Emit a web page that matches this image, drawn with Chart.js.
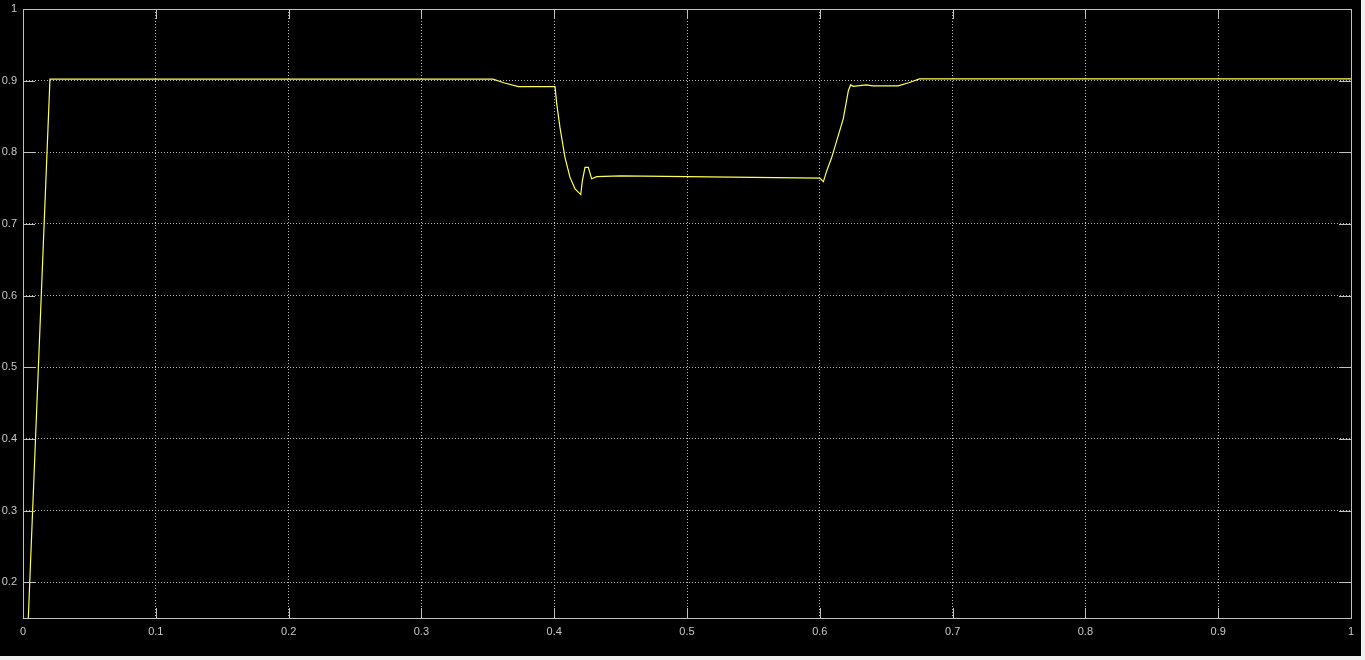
<!DOCTYPE html>
<html>
<head>
<meta charset="utf-8">
<script src="https://cdn.jsdelivr.net/npm/chart.js@4/dist/chart.umd.min.js"></script>
<style>
  html, body { margin: 0; padding: 0; background: #f0f0f0; }
  #wrap { position: absolute; left: 0; top: 0; width: 1361px; height: 656px; background: #000; }
  canvas { display: block; }
</style>
</head>
<body>
<div id="wrap"><canvas id="c" width="1361" height="656"></canvas></div>
<script>
// time (s)
const tVals = [0.004, 0.0203, 0.354, 0.362, 0.373, 0.4006, 0.4019, 0.4044, 0.4081, 0.4119, 0.4157, 0.42, 0.4212, 0.4232, 0.4257, 0.4282, 0.432, 0.45, 0.5, 0.55, 0.6, 0.6027, 0.6052, 0.609, 0.6127, 0.6177, 0.6215, 0.6232, 0.6252, 0.635, 0.64, 0.659, 0.667, 0.675, 1.0];
// signal values
const yVals = [0.15, 0.902, 0.902, 0.897, 0.8916, 0.8916, 0.868, 0.834, 0.793, 0.765, 0.749, 0.741, 0.76, 0.779, 0.779, 0.763, 0.766, 0.767, 0.766, 0.765, 0.764, 0.759, 0.774, 0.793, 0.816, 0.847, 0.886, 0.894, 0.892, 0.894, 0.8926, 0.8926, 0.897, 0.9024, 0.9024];
const xTicks = [0, 0.1, 0.2, 0.3, 0.4, 0.5, 0.6, 0.7, 0.8, 0.9, 1];
const yTicks = [0.2, 0.3, 0.4, 0.5, 0.6, 0.7, 0.8, 0.9, 1];

const points = tVals.map((t, i) => ({ x: t, y: yVals[i] }));

const frame = {
  id: 'frame',
  afterDraw(chart) {
    const { ctx, chartArea: a, scales } = chart;
    ctx.save();
    ctx.strokeStyle = '#c0c0c0';
    ctx.lineWidth = 1;
    ctx.setLineDash([]);
    ctx.strokeRect(Math.round(a.left) + 0.5, Math.round(a.top) + 0.5, Math.round(a.right - a.left), Math.round(a.bottom - a.top));
    ctx.beginPath();
    yTicks.forEach(v => {
      const p = Math.round(scales.y.getPixelForValue(v)) + 0.5;
      ctx.moveTo(a.left, p); ctx.lineTo(a.left + 12, p);
      ctx.moveTo(a.right - 12, p); ctx.lineTo(a.right, p);
    });
    xTicks.forEach(v => {
      const p = Math.round(scales.x.getPixelForValue(v)) + 0.5;
      ctx.moveTo(p, a.bottom); ctx.lineTo(p, a.bottom - 10);
      ctx.moveTo(p, a.top); ctx.lineTo(p, a.top + 10);
    });
    ctx.stroke();
    ctx.restore();
  }
};

new Chart(document.getElementById('c'), {
  type: 'line',
  data: {
    datasets: [{
      data: points,
      borderColor: '#ffff50',
      borderWidth: 1.2,
      pointRadius: 0,
      tension: 0,
      fill: false
    }]
  },
  options: {
    responsive: false,
    animation: false,
    devicePixelRatio: 1,
    layout: { padding: { top: 9, right: 10, left: 0, bottom: 0 } },
    plugins: { legend: { display: false }, tooltip: { enabled: false } },
    scales: {
      x: {
        type: 'linear',
        min: 0, max: 1,
        afterBuildTicks: s => { s.ticks = xTicks.map(v => ({ value: v })); },
        afterFit: s => { s.height = 38; s.paddingLeft = 0; s.paddingRight = 0; },
        grid: { color: '#b8b8b8', lineWidth: 1, drawTicks: false },
        border: { display: false, dash: [1, 2] },
        ticks: {
          color: '#c8c8c8',
          font: { family: 'Liberation Sans', size: 11 },
          padding: 7,
          maxRotation: 0,
          autoSkip: false,
          callback: v => String(v)
        }
      },
      y: {
        type: 'linear',
        min: 0.15, max: 1,
        afterBuildTicks: s => { s.ticks = yTicks.map(v => ({ value: v })); },
        afterFit: s => { s.width = 23; s.paddingTop = 0; s.paddingBottom = 0; },
        grid: { color: '#b8b8b8', lineWidth: 1, drawTicks: false },
        border: { display: false, dash: [1, 2] },
        ticks: {
          color: '#c8c8c8',
          font: { family: 'Liberation Sans', size: 11 },
          padding: 6,
          autoSkip: false,
          callback: v => String(v)
        }
      }
    }
  },
  plugins: [frame]
});
</script>
</body>
</html>
